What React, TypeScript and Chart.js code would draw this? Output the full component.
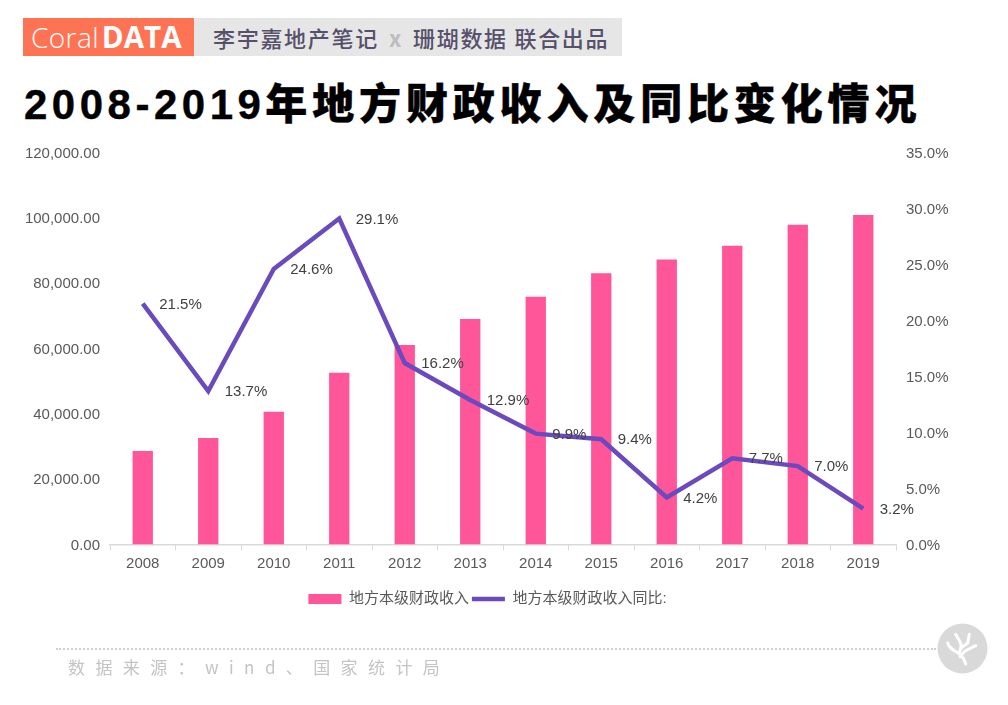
import React, { useEffect, useRef } from "react";
import { Chart, registerables } from "chart.js";

Chart.register(...registerables);

const categories = ["2008","2009","2010","2011","2012","2013","2014","2015","2016","2017","2018","2019"];
const revenue = [28650,32603,40613,52547,61078,69011,75877,83002,87239,91469,97903,100870];
const growth = [21.5,13.7,24.6,29.1,16.2,12.9,9.9,9.4,4.2,7.7,7.0,3.2];
const barName = "地方本级财政收入";
const lineName = "地方本级财政收入同比:";
const FONT = '"Liberation Sans", "Noto Sans CJK SC", sans-serif';

const labelPlugin = {
  id: "lineLabels",
  beforeDraw(chart: any) {
    // Arial-like digits sit high on a "middle" baseline: nudge the value-axis labels down.
    ["y", "y1"].forEach((id) => {
      chart.scales[id].getLabelItems().forEach((item: any) => {
        if (!item.__nudged) {
          item.options.translation = [item.options.translation[0], item.options.translation[1] + 1];
          item.__nudged = true;
        }
      });
    });
  },
  afterDatasetsDraw(chart: any) {
    const meta = chart.getDatasetMeta(1);
    const ctx = chart.ctx;
    ctx.save();
    ctx.font = `15px ${FONT}`;
    ctx.fillStyle = "#404040";
    ctx.textAlign = "left";
    ctx.textBaseline = "middle";
    meta.data.forEach((p: any, i: number) => {
      ctx.fillText(growth[i].toFixed(1) + "%", p.x + 16.5, p.y + 1);
    });
    ctx.restore();
  },
};

export default function App() {
  const ref = useRef<HTMLCanvasElement>(null);
  useEffect(() => {
    const chart = new Chart(ref.current!, {
      type: "bar",
      data: {
        labels: categories,
        datasets: [
          { type: "bar", label: barName, data: revenue, backgroundColor: "#ff5599", yAxisID: "y", barPercentage: 0.31, categoryPercentage: 1, order: 2, pointStyle: "rect" },
          { type: "line", label: lineName, data: growth, borderColor: "#6a4abd", backgroundColor: "#6a4abd", borderWidth: 4.5, pointRadius: 0, pointStyle: "line", tension: 0, yAxisID: "y1", order: 1 },
        ],
      } as any,
      options: {
        responsive: false,
        animation: false,
        layout: { padding: { top: 152.5, left: 0, right: 33, bottom: 88.5 } },
        plugins: {
          tooltip: { enabled: false },
          title: { display: false },
          legend: {
            position: "bottom",
            labels: {
              usePointStyle: true,
              pointStyleWidth: 33,
              boxHeight: 10,
              padding: 3,
              color: "#595959",
              font: { size: 15, family: FONT },
              sort: (a: any, b: any) => a.datasetIndex - b.datasetIndex,
            },
          },
        },
        scales: {
          x: {
            offset: true,
            border: { color: "#d9d9d9", width: 1.5 },
            grid: { display: true, drawOnChartArea: false, drawTicks: true, tickLength: 6, color: "#d9d9d9", offset: true },
            ticks: { color: "#595959", font: { size: 15, family: FONT }, padding: 4, maxRotation: 0 },
            afterFit(s: any) { s.height = 44; },
          },
          y: {
            position: "left",
            min: 0, max: 120000,
            border: { display: false },
            grid: { display: false, drawTicks: false },
            ticks: {
              stepSize: 20000,
              color: "#595959",
              font: { size: 15, family: FONT },
              padding: 10,
              callback: (v: any) => Number(v).toLocaleString("en-US", { minimumFractionDigits: 2, maximumFractionDigits: 2 }),
            },
            afterFit(s: any) { s.width = 110; },
          },
          y1: {
            position: "right",
            min: 0, max: 35,
            border: { display: false },
            grid: { display: false, drawTicks: false },
            ticks: {
              stepSize: 5,
              color: "#595959",
              font: { size: 15, family: FONT },
              padding: 10,
              callback: (v: any) => Number(v).toFixed(1) + "%",
            },
            afterFit(s: any) { s.width = 79; },
          },
        },
      },
      plugins: [labelPlugin],
    } as any);
    return () => chart.destroy();
  }, []);

  return (
    <div style={{ position: "absolute", left: 0, top: 0, width: 1008, height: 705, background: "#fff", overflow: "hidden" }}>
      <div style={{ position: "absolute", left: 23, top: 18, width: 171, height: 38, background: "#ff7355", color: "#fff", fontFamily: '"Open Sans", sans-serif', fontSize: 28, lineHeight: "38px", paddingLeft: 8, boxSizing: "border-box", whiteSpace: "nowrap" }}>
        <span style={{ fontWeight: 300, letterSpacing: 0.4 }}>Coral</span><span style={{ fontWeight: 700, fontSize: 29.5, marginLeft: 3 }}>DATA</span>
      </div>
      <div style={{ position: "absolute", left: 194, top: 18, width: 428, height: 38, background: "#e6e6e6", color: "#57506b", fontFamily: '"Noto Sans CJK SC", sans-serif', fontWeight: 500, fontSize: 22, lineHeight: "38px", paddingLeft: 19, boxSizing: "border-box", whiteSpace: "nowrap", letterSpacing: 1.7 }}>
        李宇嘉地产笔记<span style={{ color: "#bdbdbd", fontWeight: 700, margin: "0 10px" }}>x</span>珊瑚数据 联合出品
      </div>
      <div style={{ position: "absolute", left: 24, top: 75, color: "#000", fontFamily: '"Liberation Sans", "Noto Sans CJK SC", sans-serif', fontWeight: 900, fontSize: 42, lineHeight: "60px", letterSpacing: 4.85, whiteSpace: "nowrap", WebkitTextStroke: "0.4px #000" }}>
        <span style={{ letterSpacing: 4.5 }}>2008-2019</span>年地方财政收入及同比变化情况
      </div>
      <canvas ref={ref} width={1008} height={705} style={{ position: "absolute", left: 0, top: 0, width: 1008, height: 705 }} />
      <div style={{ position: "absolute", left: 56, top: 648, width: 880, borderTop: "2px dotted #d0d0d0" }} />
      <div style={{ position: "absolute", left: 68, top: 656, color: "#c4c4c4", fontFamily: '"Noto Sans CJK SC", sans-serif', fontSize: 17, lineHeight: "22px", letterSpacing: 10.4, whiteSpace: "nowrap" }}>
        数据来源：wind、国家统计局
      </div>
      <svg style={{ position: "absolute", left: 937, top: 623 }} width={51} height={51} viewBox="0 0 51 51">
        <circle cx="25.5" cy="25.5" r="25" fill="#d9d9d9" />
        <g stroke="#fff" strokeWidth="3" fill="none" strokeLinecap="round" strokeLinejoin="round">
          <path d="M28.7 41 C27 35 24 32 21 30 C16 27 12 25 10.7 20" />
          <path d="M22 30 C24 26 25 22 23 18.7 L18.7 11.3" />
          <path d="M24 25 L30.7 20 L32.3 11.3" />
          <path d="M23 33.7 L28 28 L38.7 22.7" />
        </g>
      </svg>
    </div>
  );
}
